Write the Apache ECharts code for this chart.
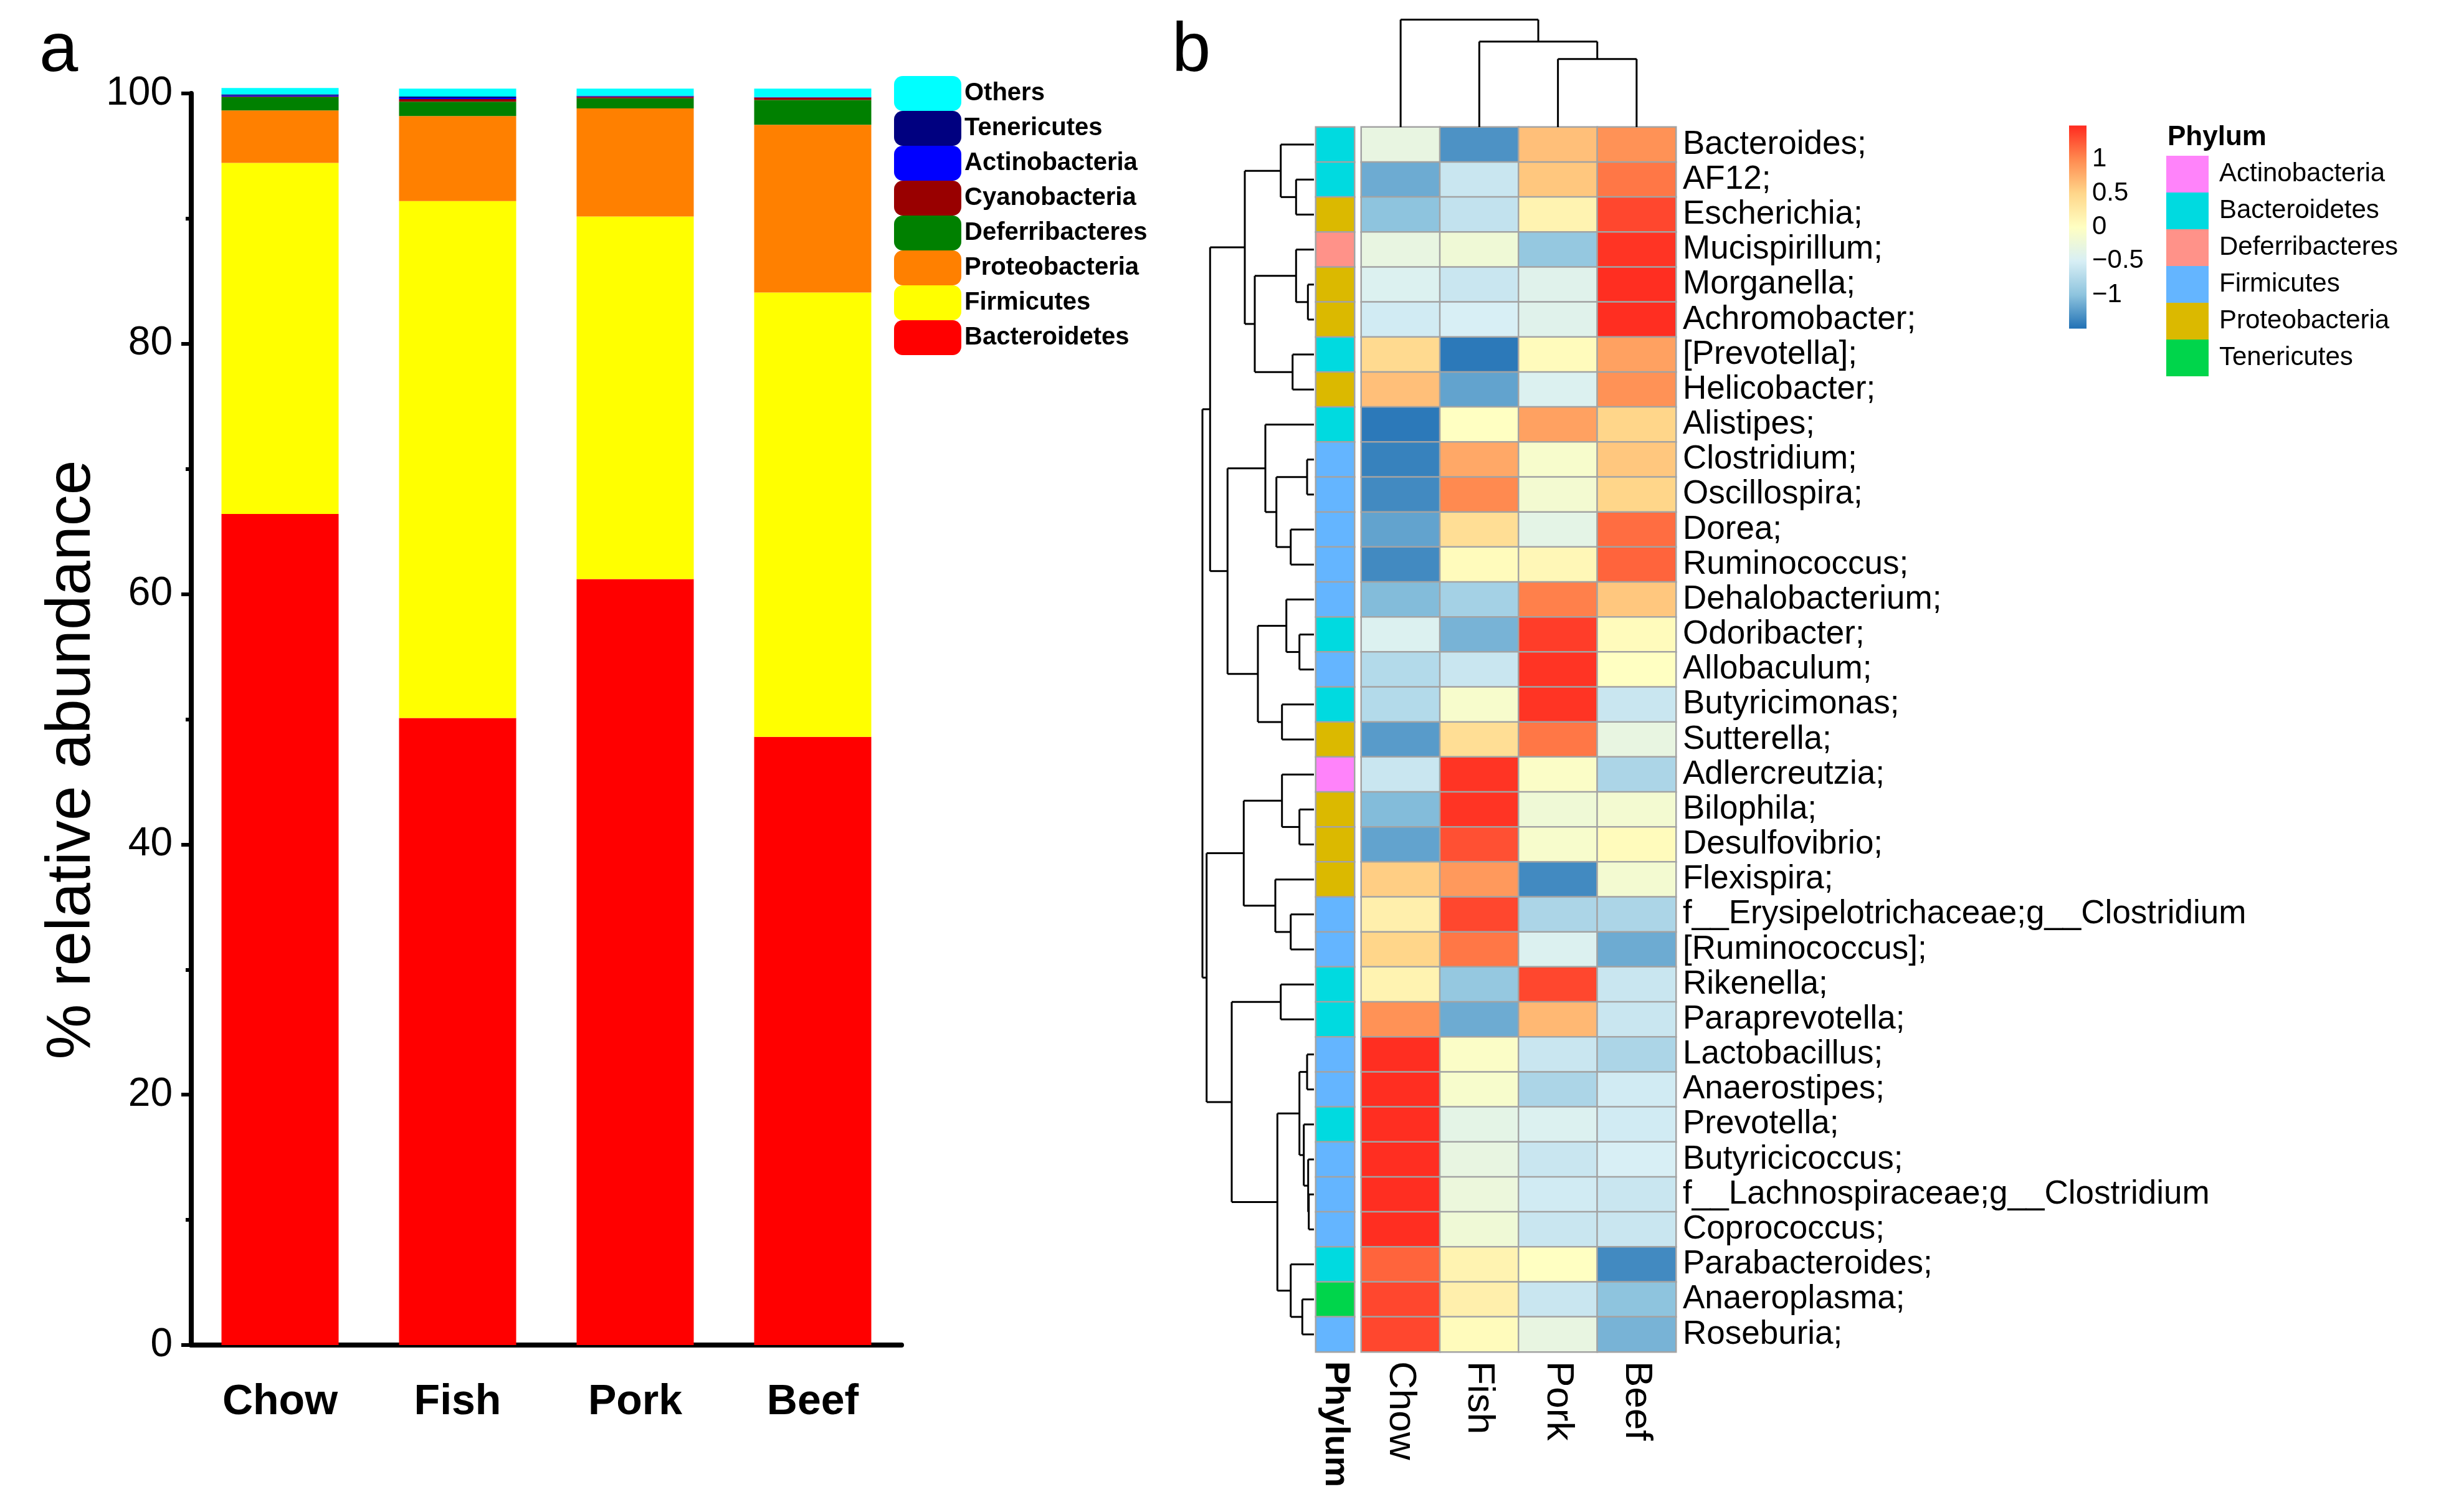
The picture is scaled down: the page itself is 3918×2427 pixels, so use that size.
<!DOCTYPE html>
<html>
<head>
<meta charset="utf-8">
<title>Phylum abundance and genus heatmap</title>
<script src="https://cdn.jsdelivr.net/npm/echarts@6/dist/echarts.min.js"></script>
<style>
  html, body { margin: 0; padding: 0; background: #fff; }
  #chart { width: 3918px; height: 2427px; }
</style>
</head>
<body>
<div id="chart"></div>
<script>
// ---------- panel a: stacked bars ----------
let dietGroups = ['Chow', 'Fish', 'Pork', 'Beef'];
let barPhyla = ['Bacteroidetes', 'Firmicutes', 'Proteobacteria', 'Deferribacteres',
                'Cyanobacteria', 'Actinobacteria', 'Tenericutes', 'Others'];
let barColors = ['#FF0000', '#FFFF00', '#FF8000', '#008000',
                 '#990000', '#0000FF', '#000080', '#00FFFF'];
let bacteroidetes   = [66.4, 50.1, 61.2, 48.6];
let firmicutes      = [28.05, 41.3, 28.97, 35.5];
let proteobacteria  = [4.19, 6.8, 8.64, 13.4];
let deferribacteres = [1.08, 1.14, 0.8, 1.98];
let cyanobacteria   = [0.03, 0.21, 0.12, 0.2];
let actinobacteria  = [0.08, 0.1, 0.03, 0.02];
let tenericutes     = [0.1, 0.1, 0.05, 0.02];
let others          = [0.5, 0.63, 0.58, 0.66];
let barValues = [bacteroidetes, firmicutes, proteobacteria, deferribacteres,
                 cyanobacteria, actinobacteria, tenericutes, others];
let yTicks = [0, 20, 40, 60, 80, 100];

// ---------- panel b: heatmap ----------
let heatCols = ['Chow', 'Fish', 'Pork', 'Beef'];
let genera = ['Bacteroides;', 'AF12;', 'Escherichia;', 'Mucispirillum;', 'Morganella;',
  'Achromobacter;', '[Prevotella];', 'Helicobacter;', 'Alistipes;', 'Clostridium;',
  'Oscillospira;', 'Dorea;', 'Ruminococcus;', 'Dehalobacterium;', 'Odoribacter;',
  'Allobaculum;', 'Butyricimonas;', 'Sutterella;', 'Adlercreutzia;', 'Bilophila;',
  'Desulfovibrio;', 'Flexispira;', 'f__Erysipelotrichaceae;g__Clostridium', '[Ruminococcus];',
  'Rikenella;', 'Paraprevotella;', 'Lactobacillus;', 'Anaerostipes;', 'Prevotella;',
  'Butyricicoccus;', 'f__Lachnospiraceae;g__Clostridium', 'Coprococcus;', 'Parabacteroides;',
  'Anaeroplasma;', 'Roseburia;'];
// row z-scores: Chow, Fish, Pork, Beef
let heatValues = [
  [-0.3, -1.3, 0.65, 0.95],
  [-1.15, -0.6, 0.6, 1.1],
  [-1.0, -0.65, 0.15, 1.35],
  [-0.3, -0.2, -0.95, 1.45],
  [-0.45, -0.6, -0.4, 1.48],
  [-0.55, -0.5, -0.4, 1.48],
  [0.45, -1.45, 0.05, 0.85],
  [0.65, -1.2, -0.45, 0.95],
  [-1.45, 0.0, 0.85, 0.5],
  [-1.4, 0.8, -0.1, 0.6],
  [-1.35, 1.0, -0.15, 0.5],
  [-1.2, 0.4, -0.35, 1.15],
  [-1.35, 0.05, 0.1, 1.2],
  [-1.05, -0.85, 1.05, 0.6],
  [-0.45, -1.1, 1.4, 0.05],
  [-0.75, -0.6, 1.45, 0.0],
  [-0.75, -0.1, 1.45, -0.6],
  [-1.25, 0.4, 1.1, -0.3],
  [-0.6, 1.45, -0.05, -0.8],
  [-1.05, 1.45, -0.2, -0.15],
  [-1.2, 1.3, -0.1, 0.05],
  [0.55, 0.9, -1.35, -0.15],
  [0.2, 1.35, -0.8, -0.8],
  [0.5, 1.1, -0.45, -1.15],
  [0.15, -0.95, 1.35, -0.6],
  [0.95, -1.15, 0.7, -0.6],
  [1.48, -0.05, -0.6, -0.8],
  [1.48, -0.1, -0.8, -0.55],
  [1.48, -0.35, -0.45, -0.55],
  [1.48, -0.3, -0.6, -0.5],
  [1.48, -0.25, -0.55, -0.6],
  [1.48, -0.2, -0.6, -0.6],
  [1.2, 0.15, 0.0, -1.35],
  [1.35, 0.2, -0.6, -1.0],
  [1.35, 0.05, -0.3, -1.1]
];
let phylumNames = ['Actinobacteria', 'Bacteroidetes', 'Deferribacteres',
                   'Firmicutes', 'Proteobacteria', 'Tenericutes'];
let phylumColors = ['#FF83FA', '#00DAE0', '#FF9289', '#64B5FF', '#DBB900', '#00D54B'];
let rowPhylum = ['Bacteroidetes', 'Bacteroidetes', 'Proteobacteria', 'Deferribacteres',
  'Proteobacteria', 'Proteobacteria', 'Bacteroidetes', 'Proteobacteria', 'Bacteroidetes',
  'Firmicutes', 'Firmicutes', 'Firmicutes', 'Firmicutes', 'Firmicutes', 'Bacteroidetes',
  'Firmicutes', 'Bacteroidetes', 'Proteobacteria', 'Actinobacteria', 'Proteobacteria',
  'Proteobacteria', 'Proteobacteria', 'Firmicutes', 'Firmicutes', 'Bacteroidetes',
  'Bacteroidetes', 'Firmicutes', 'Firmicutes', 'Bacteroidetes', 'Firmicutes', 'Firmicutes',
  'Firmicutes', 'Bacteroidetes', 'Tenericutes', 'Firmicutes'];
// colour scale and its ticks
let scaleMin = -1.5, scaleMax = 1.5;
let scaleColors = ['#2171B5', '#8EC4DE', '#D8EFF5', '#FFFFC2', '#FFD68A', '#FF8A50', '#FF2A1F'];
let scaleTicks = [-1, -0.5, 0, 0.5, 1];

// dendrograms: [height, left, right], a number is a leaf index
let rowTree = [179,
  [166.7,
    [111, [53.3, 0, [28.7, 1, 2]], [95, [28.7, 3, [9.7, 4, 5]], [34.3, 6, 7]]],
    [138.7, [78, 8, [60.3, [11, 9, 10], [37.3, 11, 12]]], [90, [44.3, 13, [23.3, 14, 15]], [51.3, 16, 17]]]
  ],
  [172.3,
    [112.7, [51.3, 18, [23.3, 19, 20]], [62, 21, [37.3, 22, 23]]],
    [132, [53.3, 24, 25],
      [58.7, [23.3, [11, 26, 27], [16.3, 28, [9.3, 29, [8.3, 30, 31]]]], [37.3, 32, [18.7, 33, 34]]]]
  ]
];
let colTree = [172.4, 0, [137.2, 1, [109.3, 2, 3]]];

let fontName = 'Liberation Sans, Arial, sans-serif';

// walk a tree, collect the elbow segments as [height1, pos1, height2, pos2]
function treeSegments(node, out) {
    if (typeof node === 'number') return {pos: node, h: 0};
    let l = treeSegments(node[1], out);
    let r = treeSegments(node[2], out);
    let h = node[0];
    out.push([l.h, l.pos, h, l.pos]);
    out.push([r.h, r.pos, h, r.pos]);
    out.push([h, l.pos, h, r.pos]);
    return {pos: (l.pos + r.pos) / 2, h: h};
}
let rowSegs = [];
treeSegments(rowTree, rowSegs);
let colSegs = [];
treeSegments(colTree, colSegs);
colSegs = colSegs.map(function (s) { return [s[1], s[0], s[3], s[2]]; });

function segmentItem(params, api) {
    let a = api.coord([api.value(0), api.value(1)]);
    let b = api.coord([api.value(2), api.value(3)]);
    return {
        type: 'line',
        shape: {x1: a[0], y1: a[1], x2: b[0], y2: b[1]},
        style: {stroke: '#000', lineWidth: 3}
    };
}

let heatData = [];
heatValues.forEach(function (row, r) {
    row.forEach(function (v, c) { heatData.push([c, r, v]); });
});
let phylumData = rowPhylum.map(function (p, r) { return [0, r, phylumNames.indexOf(p)]; });

let barSeries = barPhyla.map(function (name, i) {
    return {
        name: name,
        type: 'bar',
        stack: 'total',
        xAxisIndex: 0,
        yAxisIndex: 0,
        barWidth: 188,
        clip: false,
        itemStyle: {color: barColors[i]},
        emphasis: {disabled: true},
        data: barValues[i]
    };
});

let gradientStops = scaleColors.slice().reverse().map(function (c, i, arr) {
    return {offset: i / (arr.length - 1), color: c};
});

let chart = echarts.init(document.getElementById('chart'));
let option = {
    backgroundColor: '#fff',
    animation: false,
    textStyle: {fontFamily: fontName, color: '#000'},
    title: [
        {text: 'a', left: 58, top: 22, textStyle: {fontFamily: fontName, fontSize: 112, fontWeight: 'normal', color: '#000'}},
        {text: 'b', left: 1876, top: 22, textStyle: {fontFamily: fontName, fontSize: 112, fontWeight: 'normal', color: '#000'}},
        {text: 'Phylum', left: 3474, top: 194, textStyle: {fontFamily: fontName, fontSize: 44, fontWeight: 'bold', color: '#000'}}
    ],
    legend: {
        data: barPhyla.slice().reverse(),
        orient: 'vertical',
        left: 1435,
        top: 122,
        padding: 0,
        itemWidth: 108,
        itemHeight: 56,
        itemGap: 0,
        icon: 'roundRect',
        selectedMode: false,
        textStyle: {fontFamily: fontName, fontSize: 40, fontWeight: 'bold', color: '#000'}
    },
    visualMap: [
        {
            type: 'continuous',
            seriesIndex: 9,
            min: scaleMin,
            max: scaleMax,
            show: false,
            inRange: {color: scaleColors}
        },
        {
            type: 'piecewise',
            seriesIndex: 8,
            dimension: 2,
            orient: 'vertical',
            inverse: true,
            align: 'left',
            left: 3477,
            top: 250,
            padding: 0,
            itemWidth: 68,
            itemHeight: 59,
            itemGap: 0,
            itemSymbol: 'rect',
            textGap: 17,
            selectedMode: false,
            hoverLink: false,
            textStyle: {fontFamily: fontName, fontSize: 42, color: '#000'},
            pieces: phylumNames.map(function (n, i) {
                return {value: i, label: n, color: phylumColors[i]};
            })
        }
    ],
    grid: [
        {left: 307, top: 150, width: 1140, height: 2009},
        {left: 2112, top: 204, width: 62, height: 1966},
        {left: 2185, top: 204, width: 505, height: 1966},
        {left: 1930, top: 204, width: 179, height: 1966},
        {left: 2185, top: 31.5, width: 505, height: 172.5},
        {left: 3321, top: 201.5, width: 28, height: 326}
    ],
    xAxis: [
        {
            gridIndex: 0, type: 'category', data: dietGroups, position: 'bottom',
            axisLine: {lineStyle: {color: '#000', width: 8}},
            axisTick: {alignWithLabel: false, length: 22, lineStyle: {color: '#000', width: 6}},
            axisLabel: {show: false}
        },
        {
            gridIndex: 0, type: 'category', data: dietGroups, position: 'bottom', offset: 0,
            axisLine: {show: false},
            axisTick: {alignWithLabel: true, length: 42, lineStyle: {color: '#000', width: 6}},
            axisLabel: {fontFamily: fontName, fontSize: 68, fontWeight: 'bold', color: '#000', margin: 58}
        },
        {
            gridIndex: 1, type: 'category', data: ['Phylum'],
            axisLine: {show: false}, axisTick: {show: false},
            axisLabel: {rotate: -90, fontFamily: fontName, fontSize: 56, fontWeight: 'bold', color: '#000', margin: 15}
        },
        {
            gridIndex: 2, type: 'category', data: heatCols,
            axisLine: {show: false}, axisTick: {show: false},
            axisLabel: {rotate: -90, interval: 0, fontFamily: fontName, fontSize: 62, color: '#000', margin: 15}
        },
        {gridIndex: 3, type: 'value', min: 0, max: 179, inverse: true, show: false},
        {gridIndex: 4, type: 'value', min: -0.5, max: 3.5, show: false},
        {gridIndex: 5, type: 'category', data: [''], show: false}
    ],
    yAxis: [
        {
            gridIndex: 0, type: 'value', min: yTicks[0], max: yTicks[yTicks.length - 1], interval: 20,
            name: '% relative abundance', nameLocation: 'middle', nameGap: 140, nameRotate: 90,
            nameTextStyle: {fontFamily: fontName, fontSize: 100, color: '#000', padding: [0, 130, 0, 0]},
            axisLine: {show: true, lineStyle: {color: '#000', width: 8}},
            axisTick: {show: true, length: 16, lineStyle: {color: '#000', width: 6}},
            minorTick: {show: true, splitNumber: 2, length: 9, lineStyle: {color: '#000', width: 6}},
            splitLine: {show: false},
            axisLabel: {fontFamily: fontName, fontSize: 64, color: '#000', margin: 30}
        },
        {gridIndex: 1, type: 'category', data: genera, inverse: true, show: false},
        {
            gridIndex: 2, type: 'category', data: genera, inverse: true, position: 'right',
            axisLine: {show: false}, axisTick: {show: false},
            axisLabel: {interval: 0, fontFamily: fontName, fontSize: 53, color: '#000', margin: 11, padding: [24, 0, 0, 0]}
        },
        {gridIndex: 3, type: 'value', min: -0.5, max: genera.length - 0.5, inverse: true, show: false},
        {gridIndex: 4, type: 'value', min: 0, max: 172.4, show: false},
        {
            gridIndex: 5, type: 'value', min: scaleMin, max: scaleMax, interval: 0.5, position: 'right',
            axisLine: {show: false}, axisTick: {show: false}, splitLine: {show: false},
            axisLabel: {
                fontFamily: fontName, fontSize: 42, color: '#000', margin: 9,
                formatter: function (v) {
                    if (scaleTicks.indexOf(v) < 0) return '';
                    return String(v).replace('-', '\u2212');
                }
            }
        }
    ],
    series: barSeries.concat([
        {
            name: 'Phylum',
            type: 'heatmap',
            xAxisIndex: 2,
            yAxisIndex: 1,
            data: phylumData,
            itemStyle: {borderColor: '#A3A3A3', borderWidth: 2.5},
            emphasis: {disabled: true}
        },
        {
            name: 'z-score',
            type: 'heatmap',
            xAxisIndex: 3,
            yAxisIndex: 2,
            data: heatData,
            itemStyle: {borderColor: '#A3A3A3', borderWidth: 2.5},
            emphasis: {disabled: true}
        },
        {
            name: 'row tree',
            type: 'custom',
            xAxisIndex: 4,
            yAxisIndex: 3,
            renderItem: segmentItem,
            encode: {x: [0, 2], y: [1, 3]},
            data: rowSegs,
            silent: true
        },
        {
            name: 'column tree',
            type: 'custom',
            xAxisIndex: 5,
            yAxisIndex: 4,
            renderItem: segmentItem,
            encode: {x: [0, 2], y: [1, 3]},
            data: colSegs,
            silent: true
        },
        {
            name: 'colour key',
            type: 'custom',
            xAxisIndex: 6,
            yAxisIndex: 5,
            silent: true,
            data: [[0, 0]],
            renderItem: function (params, api) {
                let t = api.coord([0, scaleMax]);
                let b = api.coord([0, scaleMin]);
                let cs = params.coordSys;
                return {
                    type: 'rect',
                    shape: {x: cs.x, y: t[1], width: cs.width, height: b[1] - t[1]},
                    style: {fill: new echarts.graphic.LinearGradient(0, 0, 0, 1, gradientStops)}
                };
            }
        }
    ])
};
chart.setOption(option);
</script>
</body>
</html>
